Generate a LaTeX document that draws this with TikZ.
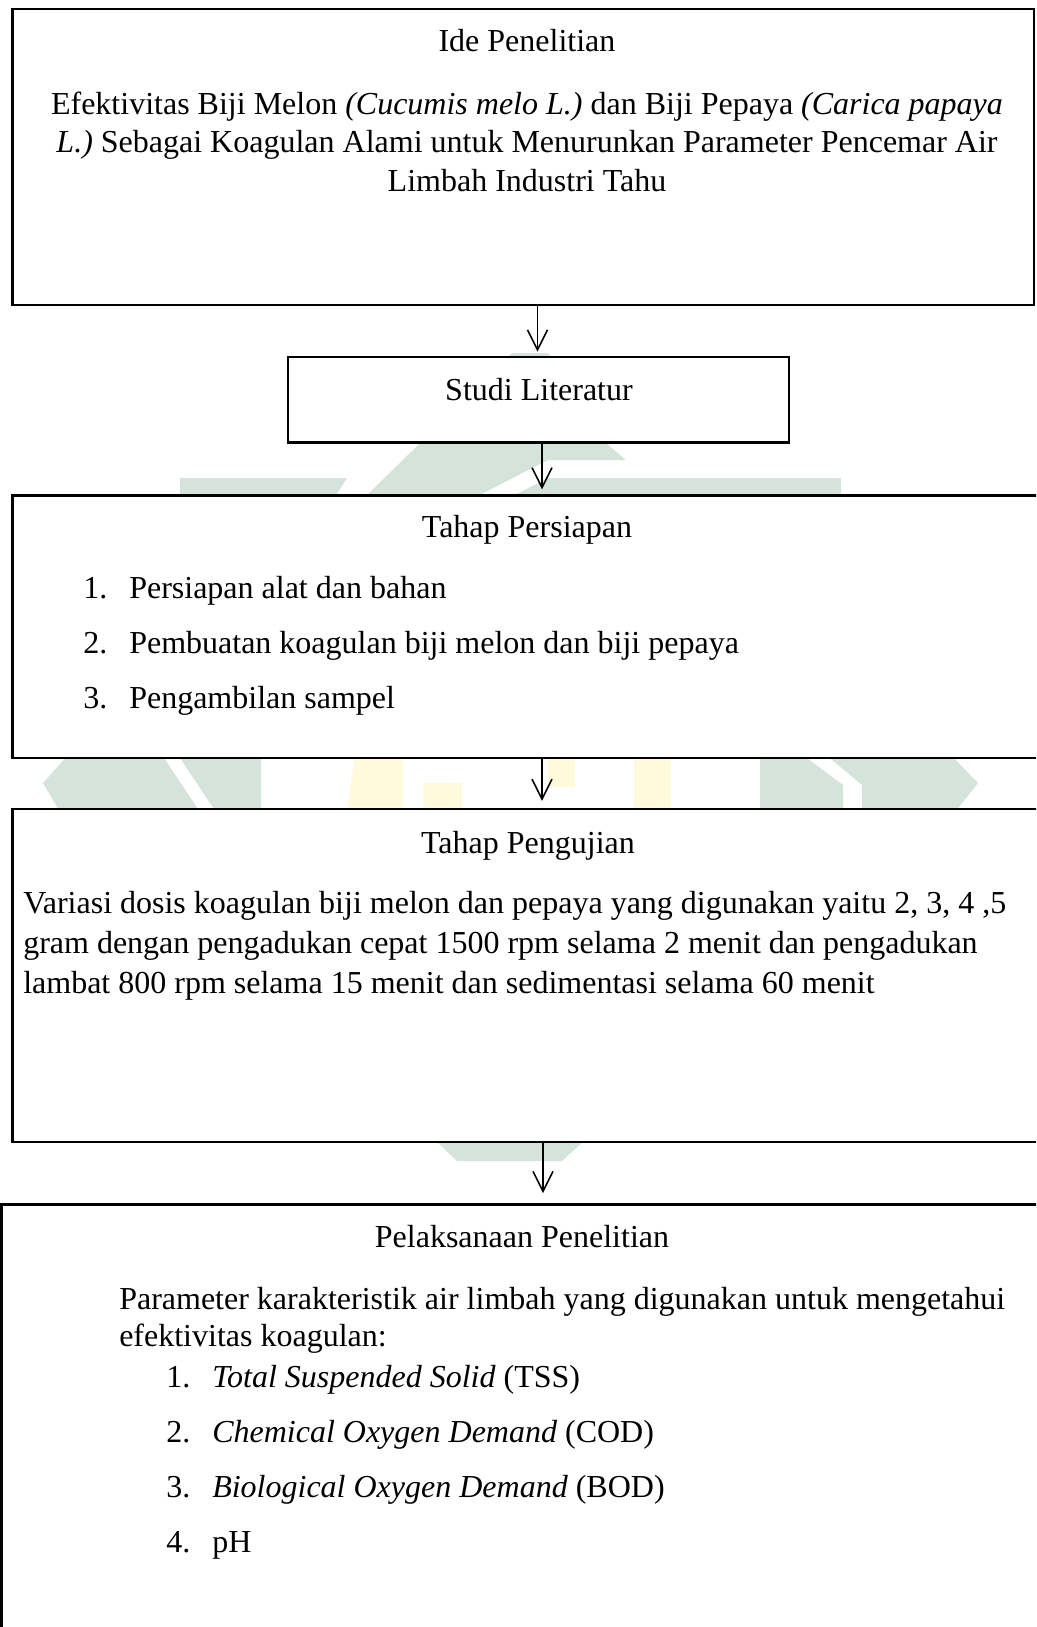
\documentclass[tikz,border=0pt]{standalone}
\usepackage{fontspec}
\setmainfont{Liberation Serif}
\usetikzlibrary{arrows.meta,fit}
\definecolor{wmgreen}{RGB}{212,228,219}
\definecolor{wmyellow}{RGB}{255,250,220}
\begin{document}
\begin{tikzpicture}[x=0.75pt,y=-0.75pt,
  box/.style={draw=black,line width=2.1pt,fill=white,inner sep=0pt},
  conn/.style={line width=1.2pt,-{Straight Barb[length=15pt,width=15pt]}},
  txt/.style={inner sep=0pt,font=\fontsize{24pt}{28pt}\selectfont},
  wmg/.style={fill=wmgreen,draw=none},
  wmy/.style={fill=wmyellow,draw=none}]
\useasboundingbox (0,0) rectangle (1036,1627);
\clip (0,0) rectangle (1036,1627);
% watermark
\fill[wmg] (180,478) -- (347,478) -- (333,500) -- (180,500) -- cycle;
\fill[wmg] (362,500) -- (470,500) -- (548,460) -- (626,460) -- (606,443) -- (548,353) -- (512,353) -- cycle;
\fill[wmg] (505,500) -- (841,500) -- (841,478) -- (548,478) -- cycle;
\fill[wmg] (68,755) -- (162,755) -- (200,812) -- (60,812) -- (43,783) -- cycle;
\fill[wmg] (178,755) -- (261,755) -- (261,812) -- (216,812) -- cycle;
\fill[wmy] (355,755) -- (403,755) -- (403,812) -- (347,812) -- cycle;
\fill[wmy] (423,783) rectangle (462,812);
\fill[wmy] (548,755) rectangle (575,787);
\fill[wmy] (634,755) rectangle (671,812);
\fill[wmg] (760,755) -- (803,755) -- (843,785) -- (843,812) -- (760,812) -- cycle;
\fill[wmg] (826,755) -- (951,755) -- (978,783) -- (955,812) -- (862,812) -- (862,785) -- cycle;
\fill[wmg] (435,1140) -- (585,1140) -- (562,1161) -- (457,1161) -- cycle;
% boxes
\node[box,fit={(12.5,9)(1034,305)}] (b1) {};
\node[box,fit={(288,357)(789,442.5)}] (b2) {};
\node[box,fit={(12.5,495.5)(1045,758)}] (b3) {};
\node[box,fit={(12.5,809)(1045,1142)}] (b4) {};
\node[box,fit={(1.5,1204.5)(1045,1645)}] (b5) {};
% connectors
\coordinate (x1) at (537.5,0);
\coordinate (x2) at (542,0);
\coordinate (x3) at (542,0);
\coordinate (x4) at (543,0);
\draw[conn] (x1 |- b1.south) -- ([yshift=3pt]x1 |- b2.north);
\draw[conn] (x2 |- b2.south) -- ([yshift=3.5pt]x2 |- b3.north);
\draw[conn] (x3 |- b3.south) -- ([yshift=5pt]x3 |- b4.north);
\draw[conn] (x4 |- b4.south) -- ([yshift=7.5pt]x4 |- b5.north);
% texts box 1
\node[txt,anchor=base] (t1a) at (527,52) {Ide Penelitian};
\node[txt,anchor=base] (t1b) at (527,114) {Efektivitas Biji Melon \textit{(Cucumis melo L.)} dan Biji Pepaya \textit{(Carica papaya}};
\node[txt,anchor=base] (t1c) at (527,152) {\textit{L.)} Sebagai Koagulan Alami untuk Menurunkan Parameter Pencemar Air};
\node[txt,anchor=base] (t1d) at (527,191) {Limbah Industri Tahu};
% box 2
\node[txt,anchor=base] (t2) at (539,400) {Studi Literatur};
% box 3
\node[txt,anchor=base] (t3) at (527,537) {Tahap Persiapan};
\node[txt,anchor=base west] (n31) at (83,598) {1.};
\node[txt,anchor=base west] (t31) at (129,598) {Persiapan alat dan bahan};
\node[txt,anchor=base west] (n32) at (83,653) {2.};
\node[txt,anchor=base west] (t32) at (129,653) {Pembuatan koagulan biji melon dan biji pepaya};
\node[txt,anchor=base west] (n33) at (83,708) {3.};
\node[txt,anchor=base west] (t33) at (129,708) {Pengambilan sampel};
% box 4
\node[txt,anchor=base] (t4) at (528,853) {Tahap Pengujian};
\node[txt,anchor=base west] (t4a) at (23,913) {Variasi dosis koagulan biji melon dan pepaya yang digunakan yaitu 2, 3, 4 ,5};
\node[txt,anchor=base west] (t4b) at (23,953) {gram dengan pengadukan cepat 1500 rpm selama 2 menit dan pengadukan};
\node[txt,anchor=base west] (t4c) at (23,993) {lambat 800 rpm selama 15 menit dan sedimentasi selama 60 menit};
% box 5
\node[txt,anchor=base] (t5) at (522,1247) {Pelaksanaan Penelitian};
\node[txt,anchor=base west] (t5a) at (119,1309) {Parameter karakteristik air limbah yang digunakan untuk mengetahui};
\node[txt,anchor=base west] (t5b) at (119,1346) {efektivitas koagulan:};
\node[txt,anchor=base west] (n51) at (166,1387) {1.};
\node[txt,anchor=base west] (t51) at (212,1387) {\textit{Total Suspended Solid} (TSS)};
\node[txt,anchor=base west] (n52) at (166,1442) {2.};
\node[txt,anchor=base west] (t52) at (212,1442) {\textit{Chemical Oxygen Demand} (COD)};
\node[txt,anchor=base west] (n53) at (166,1497) {3.};
\node[txt,anchor=base west] (t53) at (212,1497) {\textit{Biological Oxygen Demand} (BOD)};
\node[txt,anchor=base west] (n54) at (166,1552) {4.};
\node[txt,anchor=base west] (t54) at (212,1552) {pH};
\end{tikzpicture}
\end{document}
